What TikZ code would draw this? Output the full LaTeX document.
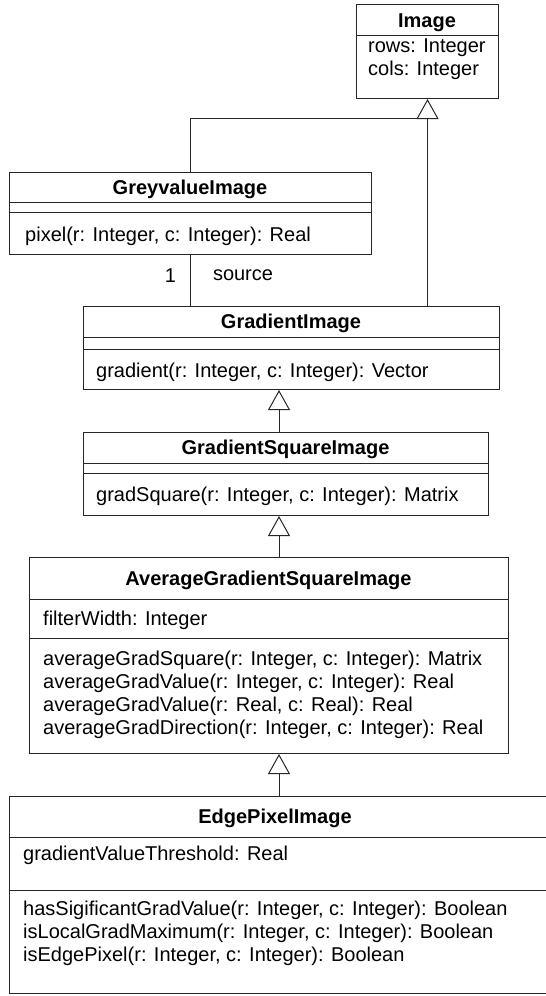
\documentclass[tikz,border=0pt]{standalone}
\usepackage{fontspec}
\setmainfont{Liberation Sans}
\usetikzlibrary{arrows.meta, positioning}
\newcommand{\umlsize}{\fontsize{20}{23}\selectfont}
\tikzset{
  cls/.style={draw=black!85, line width=1pt, anchor=north west, inner sep=0pt},
  ttl/.style={font=\umlsize\bfseries, inner sep=0pt, anchor=base},
  mem/.style={font=\umlsize, inner sep=0pt, anchor=north west, align=left},
  sep/.style={draw=black!85, line width=1pt},
  asc/.style={draw=black!85, line width=1pt},
  inh/.style={draw=black!85, line width=1pt, -{Triangle[open, length=20pt, width=22pt]}},
  rl/.style={font=\umlsize, inner sep=0pt},
}

\begin{document}
\begin{tikzpicture}[x=1pt, y=-1pt]
    \useasboundingbox (0,0) rectangle (546,996);
    % Image
    \node[cls, minimum width=142pt, minimum height=94pt] (img) at (356,4) {};
    \node[ttl] (img-t) at (427,27) {Image};
    \draw[sep] (img.west |- 0,35) -- (img.east |- 0,35);
    \node[mem] (img-a) at (368,38.5) {rows: Integer\\cols: Integer};
    % GreyvalueImage
    \node[cls, minimum width=362pt, minimum height=82pt] (grey) at (9,172) {};
    \node[ttl] (grey-t) at (190,194) {GreyvalueImage};
    \draw[sep] (grey.west |- 0,202) -- (grey.east |- 0,202);
    \draw[sep] (grey.west |- 0,212) -- (grey.east |- 0,212);
    \node[mem] (grey-m) at (25,226.5) {pixel(r: Integer, c: Integer): Real};
    % GradientImage
    \node[cls, minimum width=416pt, minimum height=83pt] (grad) at (83,306) {};
    \node[ttl] (grad-t) at (291,328) {GradientImage};
    \draw[sep] (grad.west |- 0,337) -- (grad.east |- 0,337);
    \draw[sep] (grad.west |- 0,349) -- (grad.east |- 0,349);
    \node[mem] (grad-m) at (96,362.5) {gradient(r: Integer, c: Integer): Vector};
    % GradientSquareImage
    \node[cls, minimum width=405pt, minimum height=83pt] (gsq) at (83,432) {};
    \node[ttl] (gsq-t) at (285.5,454) {GradientSquareImage};
    \draw[sep] (gsq.west |- 0,463) -- (gsq.east |- 0,463);
    \draw[sep] (gsq.west |- 0,473) -- (gsq.east |- 0,473);
    \node[mem] (gsq-m) at (96,486.5) {gradSquare(r: Integer, c: Integer): Matrix};
    % AverageGradientSquareImage
    \node[cls, minimum width=479pt, minimum height=196pt] (agsi) at (29,557) {};
    \node[ttl] (agsi-t) at (268.5,585) {AverageGradientSquareImage};
    \draw[sep] (agsi.west |- 0,599) -- (agsi.east |- 0,599);
    \node[mem] (agsi-a) at (43,610.5) {filterWidth: Integer};
    \draw[sep] (agsi.west |- 0,638) -- (agsi.east |- 0,638);
    \node[mem] (agsi-m) at (43,650.5) {averageGradSquare(r: Integer, c: Integer): Matrix\\
      averageGradValue(r: Integer, c: Integer): Real\\
      averageGradValue(r: Real, c: Real): Real\\
      averageGradDirection(r: Integer, c: Integer): Real};
    % EdgePixelImage
    \node[cls, minimum width=538pt, minimum height=197pt] (edge) at (9,796) {};
    \node[ttl] (edge-t) at (275,823) {EdgePixelImage};
    \draw[sep] (edge.west |- 0,837) -- (edge.east |- 0,837);
    \node[mem] (edge-a) at (23,845.5) {gradientValueThreshold: Real};
    \draw[sep] (edge.west |- 0,890) -- (edge.east |- 0,890);
    \node[mem] (edge-m) at (23,900.5) {hasSigificantGradValue(r: Integer, c: Integer): Boolean\\
      isLocalGradMaximum(r: Integer, c: Integer): Boolean\\
      isEdgePixel(r: Integer, c: Integer): Boolean};
    % connectors
    \coordinate (junc) at (img.south |- 0,118);
    \coordinate (ax) at (279,0);
    \draw[asc] (grey.north) |- (junc);
    \draw[inh] (img.south |- grad.north) -- (img.south);
    \draw[asc] (grey.south) -- node[rl, pos=0.4, left=14pt] (n-one) {1}
      node[rl, pos=0.4, right=22pt] (n-src) {source} (grey.south |- grad.north);
    \draw[inh] (ax |- gsq.north) -- (ax |- grad.south);
    \draw[inh] (ax |- agsi.north) -- (ax |- gsq.south);
    \draw[inh] (ax |- edge.north) -- (ax |- agsi.south);
\end{tikzpicture}
\end{document}
